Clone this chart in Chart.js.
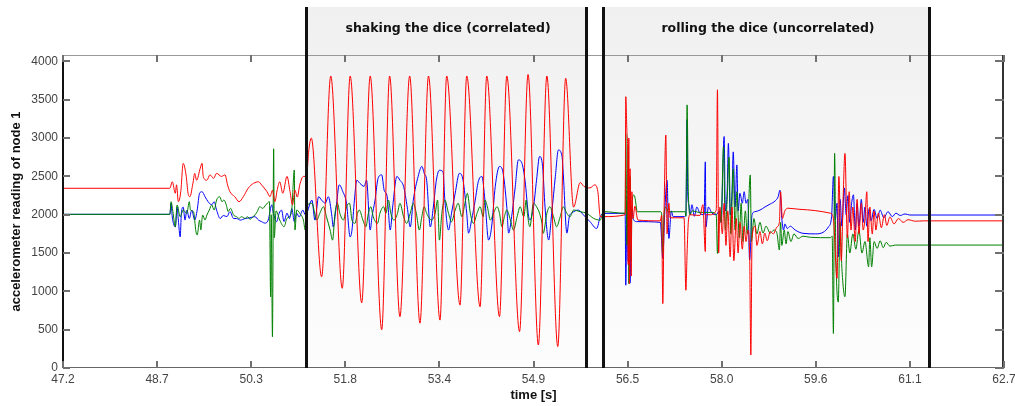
<!DOCTYPE html>
<html>
<head>
<meta charset="utf-8">
<title>accelerometer reading of node 1</title>
<script src="https://cdn.jsdelivr.net/npm/chart.js@4.4.1/dist/chart.umd.min.js"></script>
<style>
  html, body { margin: 0; padding: 0; background: #fff; }
  #chart { display: block; }
</style>
</head>
<body>
<canvas id="chart" width="1015" height="406"></canvas>
<script>
// axis ticks
const xTickValues = [47.2, 48.75, 50.3, 51.85, 53.4, 54.95, 56.5, 58.05, 59.6, 61.15, 62.7];
const xTickLabels = ['47.2', '48.7', '50.3', '51.8', '53.4', '54.9', '56.5', '58.0', '59.6', '61.1', '62.7'];
const yTickValues = [0, 500, 1000, 1500, 2000, 2500, 3000, 3500, 4000];

// annotated phases, start / end in seconds
const phaseLabels = ['shaking the dice (correlated)', 'rolling the dice (uncorrelated)'];
const phaseStart = [51.2, 56.1];
const phaseEnd = [55.82, 61.46];

// red channel
const redTime = [47.20, 48.96, 49.00, 49.05, 49.07, 49.10, 49.14, 49.18, 49.23, 49.26, 49.29, 49.34, 49.37, 49.40,
  49.46, 49.49, 49.51, 49.57, 49.62, 49.68, 49.73, 49.81, 49.87, 49.91, 49.95, 50.03, 50.10, 50.17, 50.25, 50.34,
  50.42, 50.47, 50.56, 50.61, 50.65, 50.69, 50.73, 50.77, 50.82, 50.89, 50.94, 50.98, 51.02, 51.06, 51.10, 51.16,
  51.21, 51.25, 51.29, 51.46, 51.61, 51.80, 51.93, 52.12, 52.26, 52.45, 52.58, 52.75, 52.91, 53.08, 53.22, 53.41,
  53.52, 53.74, 53.85, 54.07, 54.18, 54.39, 54.51, 54.72, 54.86, 55.03, 55.17, 55.35, 55.48, 55.61, 55.72, 55.78,
  55.88, 55.96, 56.01, 56.05, 56.10, 56.46, 56.47, 56.49, 56.50, 56.51, 56.52, 56.53, 56.54, 56.56, 56.57, 56.59,
  56.62, 56.67, 57.04, 57.06, 57.08, 57.10, 57.13, 57.15, 57.18, 57.20, 57.43, 57.46, 57.48, 57.50, 57.53, 57.69,
  57.74, 57.78, 57.79, 57.86, 57.96, 57.98, 58.00, 58.02, 58.06, 58.09, 58.12, 58.15, 58.19, 58.22, 58.25, 58.29,
  58.32, 58.35, 58.39, 58.42, 58.45, 58.48, 58.51, 58.53, 58.55, 58.60, 58.63, 58.68, 58.72, 58.76, 58.80, 58.85,
  58.90, 58.96, 59.00, 59.02, 59.05, 59.09, 59.14, 59.34, 59.84, 59.89, 59.95, 59.98, 60.02, 60.05, 60.08, 60.12,
  60.15, 60.18, 60.21, 60.25, 60.28, 60.31, 60.35, 60.38, 60.41, 60.44, 60.46, 60.49, 60.53, 60.56, 60.59, 60.63,
  60.68, 60.73, 60.77, 60.82, 60.89, 60.96, 61.04, 61.12, 61.24, 61.37, 62.70];
const redValue = [2345, 2345, 2430, 2280, 2390, 2170, 2300, 2670, 2500, 2280, 2235, 2410, 2540, 2450,
  2605, 2670, 2500, 2450, 2520, 2475, 2540, 2500, 2520, 2390, 2300, 2235, 2170, 2235, 2345, 2410,
  2430, 2390, 2300, 2235, 2320, 2170, 2330, 2430, 2280, 2500, 2300, 2130, 2320, 2230, 2390, 2500,
  2500, 2850, 3000, 1190, 3810, 1040, 3810, 850, 3810, 500, 3810, 670, 3810, 585, 3810, 625,
  3810, 820, 3810, 800, 3810, 670, 3810, 475, 3830, 300, 3810, 280, 3780, 2100, 2420, 2370,
  2350, 2390, 2300, 1975, 1975, 2000, 3540, 3070, 2900, 1350, 3000, 1100, 2600, 1200, 2300, 1950,
  2110, 1930, 1920, 1990, 840, 2000, 3040, 1750, 2150, 1960, 1960, 1015, 1500, 1900, 2000, 1990,
  2130, 1520, 2000, 2000, 2060, 3630, 1500, 2100, 1750, 2150, 1600, 2050, 1450, 2100, 1400, 1950,
  1500, 1900, 1550, 1850, 1650, 1800, 1500, 170, 1700, 1850, 1600, 1780, 1620, 1760, 1660, 1780,
  1750, 1840, 1900, 2300, 1950, 2050, 2085, 2070, 2020, 1950, 1170, 2500, 1400, 2200, 2800, 1700,
  2300, 1800, 2100, 1650, 2200, 1750, 2150, 1800, 1950, 2300, 1650, 2100, 1750, 2050, 1800, 2020,
  1830, 2000, 1860, 1970, 1880, 1950, 1900, 1935, 1915, 1920, 1920];

// blue channel
const blueTime = [47.20, 48.96, 48.98, 49.00, 49.05, 49.08, 49.10, 49.13, 49.15, 49.18, 49.21, 49.24, 49.28, 49.32,
  49.37, 49.41, 49.45, 49.49, 49.54, 49.59, 49.65, 49.69, 49.73, 49.79, 49.84, 49.90, 49.95, 50.01, 50.06, 50.12,
  50.20, 50.28, 50.36, 50.42, 50.47, 50.53, 50.58, 50.64, 50.66, 50.72, 50.76, 50.80, 50.84, 50.89, 50.93, 50.97,
  51.01, 51.05, 51.09, 51.15, 51.19, 51.21, 51.30, 51.35, 51.41, 51.46, 51.52, 51.57, 51.63, 51.65, 51.70, 51.75,
  51.81, 51.87, 51.93, 51.96, 52.00, 52.04, 52.09, 52.16, 52.20, 52.26, 52.29, 52.34, 52.39, 52.45, 52.49, 52.54,
  52.59, 52.63, 52.70, 52.75, 52.81, 52.87, 52.92, 52.97, 53.05, 53.11, 53.15, 53.19, 53.25, 53.30, 53.35, 53.40,
  53.46, 53.49, 53.55, 53.60, 53.66, 53.73, 53.79, 53.85, 53.88, 53.93, 53.99, 54.04, 54.10, 54.15, 54.21, 54.26,
  54.32, 54.39, 54.44, 54.51, 54.54, 54.59, 54.65, 54.70, 54.76, 54.81, 54.87, 54.89, 54.95, 55.00, 55.05, 55.10,
  55.14, 55.20, 55.25, 55.31, 55.36, 55.42, 55.44, 55.50, 55.54, 55.58, 55.69, 55.77, 55.88, 55.99, 56.05, 56.10,
  56.46, 56.47, 56.49, 56.51, 56.52, 56.54, 56.56, 56.57, 56.59, 56.65, 57.04, 57.08, 57.11, 57.15, 57.17, 57.18,
  57.22, 57.25, 57.43, 57.46, 57.48, 57.49, 57.51, 57.53, 57.56, 57.60, 57.64, 57.69, 57.76, 57.78, 57.79, 57.83,
  57.89, 57.96, 58.01, 58.04, 58.09, 58.11, 58.14, 58.16, 58.19, 58.22, 58.24, 58.27, 58.30, 58.32, 58.35, 58.39,
  58.42, 58.45, 58.48, 58.51, 58.55, 58.60, 58.68, 58.76, 58.85, 58.93, 58.98, 59.01, 59.04, 59.07, 59.09, 59.13,
  59.18, 59.26, 59.39, 59.59, 59.72, 59.81, 59.86, 59.89, 59.92, 59.95, 59.97, 60.00, 60.03, 60.07, 60.10, 60.13,
  60.16, 60.19, 60.22, 60.25, 60.28, 60.31, 60.35, 60.38, 60.41, 60.44, 60.48, 60.51, 60.56, 60.61, 60.66, 60.72,
  60.79, 60.86, 60.92, 60.99, 61.07, 61.15, 62.70];
const blueValue = [2005, 2005, 2150, 1970, 1840, 2100, 1930, 1710, 2020, 2100, 1930, 2060, 1950, 2060,
  1930, 2060, 2280, 2300, 2235, 2170, 2130, 2170, 2060, 1950, 1990, 1975, 2040, 1950, 1950, 1930,
  1950, 1960, 1975, 1930, 1910, 1890, 1930, 2130, 2040, 1910, 2020, 2060, 1910, 2020, 1950, 2080,
  1910, 2020, 1970, 2060, 2000, 2010, 2190, 1930, 2235, 2190, 2150, 2235, 1975, 1840, 2100, 2390,
  2300, 2150, 1710, 1800, 2190, 2450, 2410, 2370, 2450, 1800, 1975, 2190, 2475, 2520, 2320, 2235,
  1800, 2100, 2500, 2450, 2370, 2100, 1840, 2190, 2500, 2630, 2540, 2450, 1840, 2100, 2450, 2580,
  2560, 2190, 1800, 2020, 2280, 2540, 2450, 2020, 1760, 1930, 2190, 2430, 2500, 2190, 1670, 1840,
  2370, 2630, 2580, 2100, 1760, 1975, 2370, 2715, 2670, 2450, 1975, 1930, 2100, 2450, 2760, 2630,
  2100, 1670, 2020, 2500, 2845, 2760, 2540, 1760, 1975, 2020, 2060, 2000, 1910, 1820, 1975, 2018,
  2018, 1080, 2100, 1390, 2000, 1107, 1900, 2100, 1950, 1910, 1900, 1430, 2000, 2450, 1900, 1690,
  2050, 1975, 1975, 1990, 3240, 2300, 2130, 2000, 2130, 1980, 2100, 2020, 2000, 2690, 1840, 2100,
  2020, 2000, 2050, 1900, 3020, 2050, 2300, 2930, 2000, 2300, 2820, 2100, 2650, 2050, 2280, 2150,
  2300, 2150, 2200, 1410, 2000, 2040, 2060, 2100, 2140, 2180, 2235, 2320, 1950, 1800, 1880, 1820,
  1850, 1800, 1757, 1750, 1770, 1843, 1974, 2500, 1930, 2150, 1450, 2200, 1850, 2350, 2000, 2250,
  1900, 2150, 2260, 1800, 2150, 1850, 2200, 1900, 2100, 1850, 2080, 1920, 2070, 1950, 2060, 1960,
  2040, 1975, 2020, 1990, 2010, 1996, 1996];

// green channel
const greenTime = [47.20, 48.96, 48.98, 49.01, 49.05, 49.08, 49.13, 49.18, 49.24, 49.28, 49.30, 49.35, 49.39, 49.41,
  49.45, 49.47, 49.50, 49.54, 49.57, 49.61, 49.65, 49.69, 49.73, 49.78, 49.82, 49.85, 49.89, 49.92, 49.96, 50.01,
  50.06, 50.10, 50.14, 50.20, 50.24, 50.28, 50.32, 50.36, 50.40, 50.44, 50.49, 50.54, 50.60, 50.62, 50.63, 50.65,
  50.67, 50.68, 50.71, 50.77, 50.84, 50.89, 50.93, 50.97, 51.01, 51.02, 51.05, 51.10, 51.16, 51.19, 51.21, 51.30,
  51.38, 51.43, 51.49, 51.54, 51.60, 51.64, 51.68, 51.72, 51.76, 51.82, 51.87, 51.92, 51.96, 52.01, 52.05, 52.08,
  52.14, 52.19, 52.23, 52.27, 52.31, 52.38, 52.42, 52.48, 52.52, 52.56, 52.60, 52.65, 52.71, 52.75, 52.81, 52.86,
  52.92, 52.97, 53.02, 53.07, 53.11, 53.15, 53.19, 53.27, 53.33, 53.37, 53.40, 53.44, 53.49, 53.55, 53.60, 53.66,
  53.71, 53.77, 53.82, 53.86, 53.91, 53.96, 54.02, 54.07, 54.12, 54.15, 54.19, 54.24, 54.29, 54.35, 54.39, 54.43,
  54.47, 54.51, 54.57, 54.62, 54.68, 54.73, 54.79, 54.83, 54.85, 54.89, 54.95, 55.00, 55.05, 55.09, 55.11, 55.17,
  55.22, 55.28, 55.33, 55.39, 55.44, 55.50, 55.55, 55.61, 55.72, 55.83, 55.94, 56.05, 56.10, 56.46, 56.47, 56.49,
  56.51, 56.52, 56.54, 56.56, 56.57, 56.60, 56.62, 56.66, 57.04, 57.06, 57.08, 57.10, 57.13, 57.17, 57.45, 57.46,
  57.48, 57.50, 57.53, 57.56, 57.69, 57.89, 57.96, 57.98, 58.01, 58.04, 58.08, 58.11, 58.14, 58.17, 58.20, 58.24,
  58.27, 58.30, 58.34, 58.37, 58.40, 58.44, 58.47, 58.52, 58.54, 58.58, 58.63, 58.68, 58.73, 58.78, 58.85, 58.91,
  58.96, 59.00, 59.02, 59.04, 59.08, 59.11, 59.14, 59.19, 59.24, 59.31, 59.39, 59.51, 59.84, 59.87, 59.89, 59.91,
  59.93, 59.97, 60.00, 60.03, 60.08, 60.12, 60.16, 60.21, 60.26, 60.31, 60.36, 60.41, 60.47, 60.49, 60.52, 60.56,
  60.61, 60.66, 60.71, 60.76, 60.82, 60.91, 62.70];
const greenValue = [2005, 2005, 2170, 2040, 1843, 2127, 1974, 2061, 2018, 2170, 2061, 2040, 1778, 1735,
  1930, 1800, 1996, 1930, 1996, 2061, 2127, 2061, 2192, 2235, 2170, 2192, 2127, 2040, 2083, 1996,
  1974, 1952, 1974, 1952, 1974, 1940, 1966, 1996, 2040, 2104, 2083, 2127, 2170, 930, 2000, 405,
  2860, 1700, 2050, 1930, 1843, 1952, 1974, 2083, 2584, 1800, 2061, 2018, 1930, 1800, 2104, 2149,
  1930, 2018, 2104, 1974, 1800, 1669, 2018, 2149, 2018, 1930, 2104, 2149, 1930, 1887, 2018, 2061,
  1930, 1843, 2018, 2104, 1974, 1887, 2018, 2104, 2018, 2192, 2018, 1930, 2018, 2149, 1974, 1887,
  2018, 2149, 2018, 1800, 1974, 2104, 2018, 1930, 2018, 2192, 1669, 2018, 2192, 2018, 1908, 2061,
  2149, 1974, 2149, 2279, 2018, 1887, 2018, 2104, 1974, 2192, 2104, 1930, 2018, 2104, 2018, 1843,
  1974, 2061, 1930, 1800, 1974, 2104, 1974, 2192, 2018, 1843, 2149, 2104, 2018, 1887, 1757, 2018,
  2104, 1974, 1843, 1974, 2104, 2018, 1974, 2061, 2039, 2018, 1952, 1930, 2040, 2018, 3060, 1600,
  2900, 1100, 2500, 1400, 2100, 2257, 2230, 2039, 2039, 2020, 1495, 2000, 2100, 2039, 2039, 1980,
  3433, 2300, 2000, 2050, 2030, 2030, 2000, 1495, 2050, 1900, 2888, 1800, 2200, 2750, 1750, 2600,
  1800, 2300, 1700, 2150, 1650, 2050, 1750, 2519, 1650, 1950, 1750, 1900, 1760, 1850, 1760, 1800,
  1757, 1540, 1900, 1600, 1800, 1620, 1780, 1650, 1750, 1690, 1720, 1705, 1700, 1720, 450, 2800,
  1500, 860, 1900, 1300, 930, 1750, 1500, 1750, 1550, 1800, 1500, 1650, 1320, 1700, 1320, 1650,
  1560, 1660, 1570, 1640, 1590, 1604, 1604];

function toPoints(times, values) {
  return times.map((t, i) => ({ x: t, y: values[i] }));
}

const HEADER_TOP = 7;

// shaded phase boxes with their captions, plus the black boundary lines
const phasePlugin = {
  id: 'phases',
  beforeDatasetsDraw(chart) {
    const { ctx, chartArea, scales: { x } } = chart;
    ctx.save();
    const grad = ctx.createLinearGradient(0, HEADER_TOP, 0, chartArea.bottom);
    grad.addColorStop(0, '#f0f0f0');
    grad.addColorStop(1, '#fdfdfd');
    phaseStart.forEach((start, i) => {
      const x0 = x.getPixelForValue(start);
      const x1 = x.getPixelForValue(phaseEnd[i]);
      ctx.fillStyle = grad;
      ctx.fillRect(x0, HEADER_TOP, x1 - x0, chartArea.bottom - HEADER_TOP);
      ctx.fillStyle = '#111';
      ctx.font = 'bold 12.5px "DejaVu Sans"';
      ctx.textAlign = 'center';
      ctx.textBaseline = 'middle';
      ctx.fillText(phaseLabels[i], (x0 + x1) / 2 + 2, 29);
    });
    ctx.restore();
  },
  afterDraw(chart) {
    const { ctx, chartArea: a, scales: { x, y } } = chart;
    ctx.save();

    // frame
    ctx.lineWidth = 1;
    ctx.strokeStyle = '#999';
    ctx.beginPath(); ctx.moveTo(a.left, a.top + 0.5); ctx.lineTo(a.right, a.top + 0.5); ctx.stroke();
    ctx.strokeStyle = '#666';
    ctx.beginPath(); ctx.moveTo(a.left, a.bottom - 0.5); ctx.lineTo(a.right, a.bottom - 0.5); ctx.stroke();
    ctx.lineWidth = 2;
    ctx.strokeStyle = '#111';
    ctx.beginPath(); ctx.moveTo(a.left, a.top); ctx.lineTo(a.left, a.bottom); ctx.stroke();
    ctx.strokeStyle = '#333';
    ctx.beginPath(); ctx.moveTo(a.right - 1, a.top); ctx.lineTo(a.right - 1, a.bottom); ctx.stroke();

    // inward ticks on all four sides
    ctx.strokeStyle = '#707070';
    ctx.lineWidth = 2;
    xTickValues.forEach(v => {
      const px = Math.round(x.getPixelForValue(v));
      ctx.beginPath(); ctx.moveTo(px, a.bottom); ctx.lineTo(px, a.bottom - 7); ctx.stroke();
      ctx.beginPath(); ctx.moveTo(px, a.top); ctx.lineTo(px, a.top + 7); ctx.stroke();
    });
    yTickValues.forEach(v => {
      const py = Math.round(y.getPixelForValue(v));
      ctx.beginPath(); ctx.moveTo(a.left, py); ctx.lineTo(a.left + 7, py); ctx.stroke();
      ctx.beginPath(); ctx.moveTo(a.right - 9, py); ctx.lineTo(a.right, py); ctx.stroke();
    });

    // phase boundaries
    ctx.strokeStyle = '#111';
    ctx.lineWidth = 3;
    phaseStart.concat(phaseEnd).forEach(t => {
      const px = Math.round(x.getPixelForValue(t)) + 0.5;
      ctx.beginPath(); ctx.moveTo(px, HEADER_TOP); ctx.lineTo(px, a.bottom); ctx.stroke();
    });
    ctx.restore();
  }
};

Chart.defaults.font.family = '"Liberation Sans", Arial, sans-serif';

const lineStyle = {
  borderWidth: 1,
  pointRadius: 0,
  fill: false,
  cubicInterpolationMode: 'monotone'
};

new Chart(document.getElementById('chart'), {
  type: 'line',
  data: {
    datasets: [
      { label: 'x', data: toPoints(redTime, redValue), borderColor: '#ff0000', ...lineStyle },
      { label: 'z', data: toPoints(greenTime, greenValue), borderColor: '#008000', ...lineStyle },
      { label: 'y', data: toPoints(blueTime, blueValue), borderColor: '#0000ff', ...lineStyle }
    ]
  },
  options: {
    responsive: false,
    devicePixelRatio: 1,
    animation: false,
    layout: { padding: { top: 55, right: 11, left: 0, bottom: 0 } },
    plugins: {
      legend: { display: false },
      tooltip: { enabled: false }
    },
    scales: {
      x: {
        type: 'linear',
        min: 47.2,
        max: 62.7,
        grid: { display: false, drawTicks: false },
        border: { display: false },
        afterBuildTicks: scale => { scale.ticks = xTickValues.map(v => ({ value: v })); },
        afterFit: scale => { scale.height = 38; scale.paddingLeft = 0; scale.paddingRight = 0; },
        ticks: {
          autoSkip: false,
          maxRotation: 0,
          minRotation: 0,
          padding: 4,
          color: '#444',
          font: { size: 12 },
          callback: (value, index) => xTickLabels[index]
        },
        title: {
          display: true,
          text: 'time [s]',
          color: '#111',
          font: { size: 13, weight: 'bold' },
          padding: { top: 0, bottom: 3 }
        }
      },
      y: {
        min: 0,
        max: 4084,
        grid: { display: false, drawTicks: false },
        border: { display: false },
        afterBuildTicks: scale => { scale.ticks = yTickValues.map(v => ({ value: v })); },
        afterFit: scale => { scale.width = 63; scale.paddingTop = 0; scale.paddingBottom = 0; },
        ticks: {
          padding: 5,
          color: '#444',
          font: { size: 12 },
          callback: value => String(value)
        },
        title: {
          display: true,
          text: 'accelerometer reading of node 1',
          color: '#111',
          font: { size: 13, weight: 'bold' },
          padding: { top: 9, bottom: 0 }
        }
      }
    }
  },
  plugins: [phasePlugin]
});
</script>
</body>
</html>
